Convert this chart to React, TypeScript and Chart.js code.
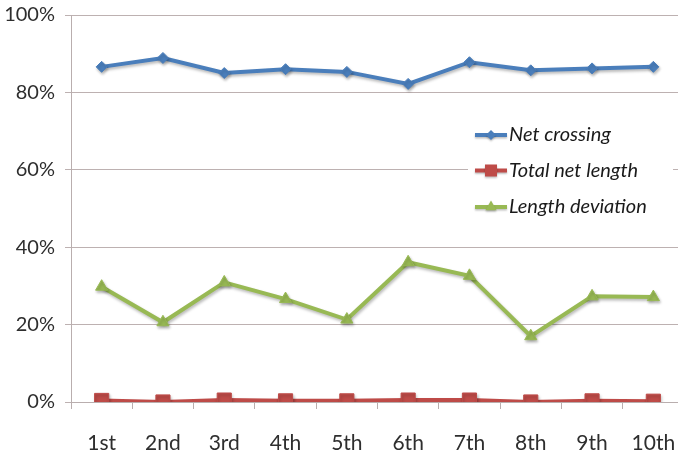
import React, { useEffect, useRef } from "react";
import { Chart, registerables } from "chart.js";

Chart.register(...registerables);

const categories = ["1st", "2nd", "3rd", "4th", "5th", "6th", "7th", "8th", "9th", "10th"];
const netCrossing = [86.6, 88.9, 85.0, 86.0, 85.3, 82.2, 87.8, 85.7, 86.2, 86.6];
const totalNetLength = [0.4, 0.0, 0.5, 0.3, 0.3, 0.5, 0.5, 0.0, 0.3, 0.2];
const lengthDeviation = [29.8, 20.6, 30.9, 26.6, 21.3, 36.1, 32.6, 17.0, 27.3, 27.1];
const yTicks = [0, 20, 40, 60, 80, 100];

const FONT = "Lato, 'Open Sans', sans-serif";

const shadowPlugin = {
  id: "softShadow",
  beforeDatasetsDraw(chart: any) {
    const ctx = chart.ctx;
    ctx.save();
    ctx.shadowColor = "rgba(0,0,0,0.28)";
    ctx.shadowBlur = 3;
    ctx.shadowOffsetX = 1;
    ctx.shadowOffsetY = 2;
  },
  afterDatasetsDraw(chart: any) {
    chart.ctx.restore();
  },
};

function drawMarker(ctx: CanvasRenderingContext2D, style: string, x: number, y: number) {
  ctx.beginPath();
  if (style === "rectRot") {
    const r = 5;
    ctx.moveTo(x, y - r);
    ctx.lineTo(x + r, y);
    ctx.lineTo(x, y + r);
    ctx.lineTo(x - r, y);
    ctx.closePath();
  } else if (style === "rect") {
    const s = 6;
    ctx.rect(x - s, y - s, 2 * s, 2 * s);
  } else {
    const r = 6.5;
    ctx.moveTo(x, y - r);
    ctx.lineTo(x + r * 0.866, y + r * 0.5);
    ctx.lineTo(x - r * 0.866, y + r * 0.5);
    ctx.closePath();
  }
  ctx.fill();
}

const legendPlugin = {
  id: "insideLegend",
  afterDraw(c: any) {
    const ctx = c.ctx;
    ctx.save();
    ctx.fillStyle = "#ffffff";
    ctx.fillRect(468, 114, 205, 112);
    const rows = [135, 170.5, 207];
    c.data.datasets.forEach((ds: any, i: number) => {
      const y = rows[i];
      ctx.save();
      ctx.shadowColor = "rgba(0,0,0,0.25)";
      ctx.shadowBlur = 2;
      ctx.shadowOffsetY = 1.5;
      ctx.strokeStyle = ds.borderColor;
      ctx.fillStyle = ds.backgroundColor;
      ctx.lineWidth = 4;
      ctx.beginPath();
      ctx.moveTo(475, y);
      ctx.lineTo(507, y);
      ctx.stroke();
      drawMarker(ctx, ds.pointStyle, 491, y);
      ctx.restore();
      ctx.fillStyle = "#1a1a1a";
      ctx.font = "italic 20px " + FONT;
      ctx.textBaseline = "middle";
      ctx.textAlign = "left";
      ctx.fillText(ds.label, 509, y);
    });
    ctx.restore();
  },
};

export default function App() {
  const ref = useRef<HTMLCanvasElement | null>(null);
  useEffect(() => {
    if (!ref.current) return;
    const colors = ["#4A7EBB", "#BE4B48", "#98B954"];
    const chart = new Chart(ref.current, {
      type: "line",
      data: {
        labels: categories,
        datasets: [
          {
            label: "Net crossing",
            data: netCrossing,
            borderColor: colors[0],
            backgroundColor: colors[0],
            borderWidth: 4,
            pointStyle: "rectRot",
            pointRadius: 5.5,
            pointBorderWidth: 1,
            tension: 0,
          },
          {
            label: "Total net length",
            data: totalNetLength,
            borderColor: colors[1],
            backgroundColor: colors[1],
            borderWidth: 4,
            pointStyle: "rect",
            pointRadius: 10,
            pointBorderWidth: 1,
            tension: 0,
          },
          {
            label: "Length deviation",
            data: lengthDeviation,
            borderColor: colors[2],
            backgroundColor: colors[2],
            borderWidth: 4,
            pointStyle: "triangle",
            pointRadius: 7,
            pointBorderWidth: 1,
            tension: 0,
          },
        ],
      },
      options: {
        animation: false,
        responsive: true,
        maintainAspectRatio: false,
        layout: { padding: { top: 15, left: 0, right: 16, bottom: 0 } },
        plugins: {
          legend: { display: false },
          tooltip: { enabled: false },
        },
        scales: {
          x: {
            offset: true,
            grid: {
              drawOnChartArea: false,
              drawTicks: true,
              tickLength: 7,
              color: "#B9AEAE",
              offset: true,
            },
            border: { display: true, color: "#B9AEAE" },
            ticks: {
              color: "#2e2e2e",
              font: { family: FONT, size: 21 },
              padding: 22,
              maxRotation: 0,
              autoSkip: false,
            },
            afterFit(scale: any) {
              scale.height = 52;
              scale.paddingLeft = 0;
              scale.paddingRight = 0;
            },
          },
          y: {
            min: 0,
            max: 100,
            afterBuildTicks(scale: any) {
              scale.ticks = yTicks.map((v) => ({ value: v }));
            },
            grid: {
              color: "#BDB1B1",
              lineWidth: 1,
              tickLength: 6,
              drawTicks: true,
            },
            border: { display: true, color: "#B9AEAE" },
            ticks: {
              color: "#2e2e2e",
              font: { family: FONT, size: 20 },
              padding: 10,
              callback: (v: any) => v + "%",
            },
            afterFit(scale: any) {
              scale.width = 71;
              scale.paddingTop = 0;
              scale.paddingBottom = 0;
            },
          },
        },
      },
      plugins: [shadowPlugin, legendPlugin],
    });
    return () => chart.destroy();
  }, []);

  return (
    <div style={{ position: "fixed", left: 0, top: 0, width: 678, height: 454, overflow: "hidden", background: "#fff" }}>
      <div style={{ position: "relative", width: 700, height: 454 }}>
        <canvas ref={ref} />
      </div>
    </div>
  );
}
